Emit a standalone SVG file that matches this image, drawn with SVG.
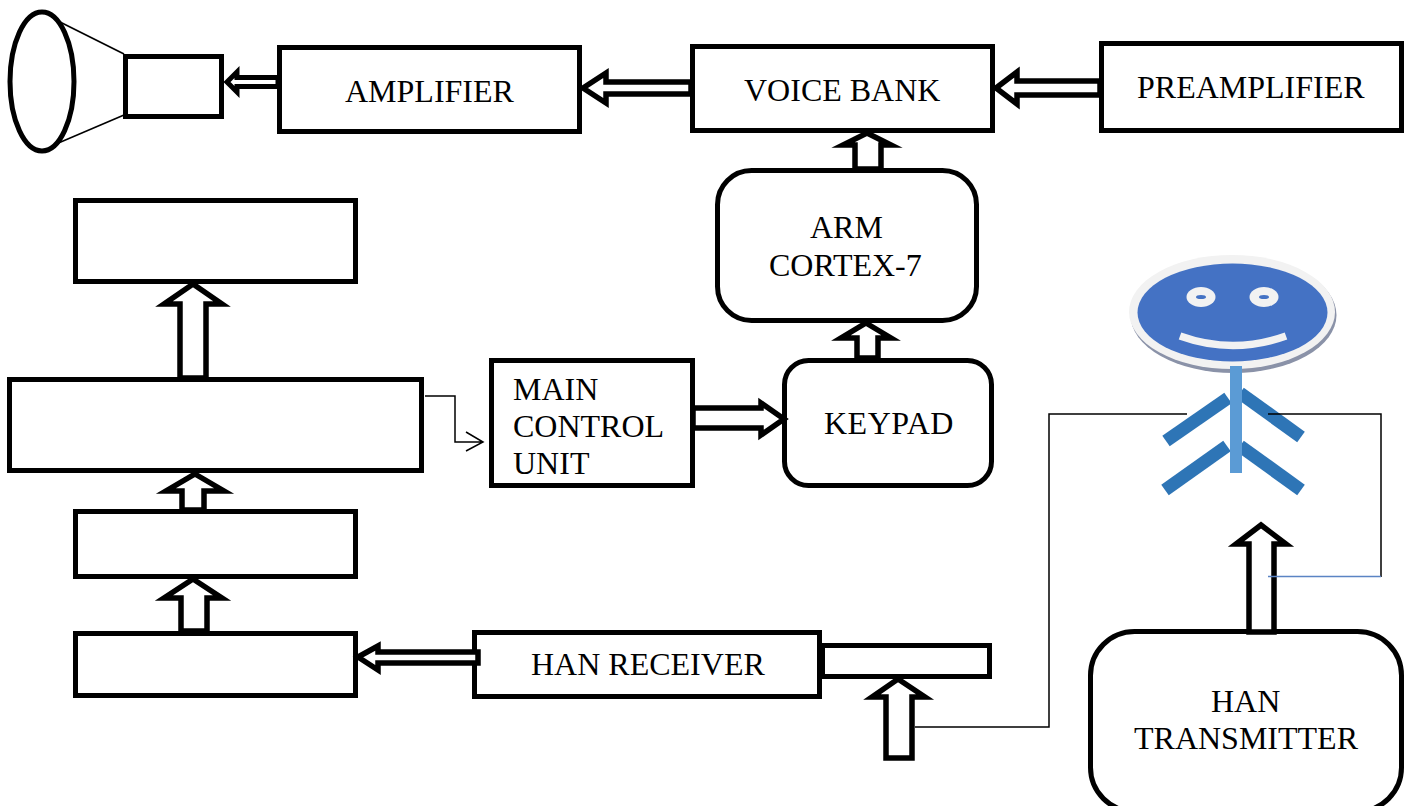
<svg xmlns="http://www.w3.org/2000/svg" width="1409" height="806" viewBox="0 0 1409 806">
<style>
.b{fill:#fff;stroke:#000;stroke-width:5}
.a{fill:#fff;stroke:#000;stroke-width:5.5;stroke-miterlimit:8}
.t{font-family:"Liberation Serif","Times New Roman",serif;font-size:32px;fill:#000}
.w{fill:none;stroke:#000;stroke-width:1.5}
.l{stroke:#2e75b6;stroke-width:13;fill:none}
.f{fill:#f2f2f2}
.m{fill:#4472c4}
</style>
<rect width="1409" height="806" fill="#fff"/>
<g id="speaker">
<line class="w" x1="42" y1="13" x2="124" y2="54" style="stroke-width:1.6"/>
<line class="w" x1="42" y1="150" x2="124" y2="115" style="stroke-width:1.6"/>
<ellipse cx="42" cy="81.5" rx="32" ry="69.5" fill="#fff" stroke="#000" stroke-width="5"/>
<rect class="b" x="125.500" y="56.500" width="96" height="60"/>
</g>
<g id="amplifier"><rect class="b" x="279.500" y="47.500" width="300" height="84"/><text class="t" x="345" y="102">AMPLIFIER</text></g>
<g id="voice-bank"><rect class="b" x="692.500" y="46.500" width="300" height="84"/><text class="t" x="744" y="101">VOICE BANK</text></g>
<g id="preamplifier"><rect class="b" x="1101.500" y="43.500" width="300" height="87"/><text class="t" x="1137" y="98">PREAMPLIFIER</text></g>
<g id="arm"><rect class="b" x="717.500" y="170.500" width="259" height="150" rx="34"/><text class="t" x="810" y="238">ARM</text><text class="t" x="769" y="276">CORTEX-7</text></g>
<g id="keypad"><rect class="b" x="784.500" y="360.500" width="207" height="125" rx="24"/><text class="t" x="824" y="434" style="letter-spacing:.5px">KEYPAD</text></g>
<g id="main-control"><rect class="b" x="491.500" y="360.500" width="201" height="125"/><text class="t" x="513" y="400">MAIN</text><text class="t" x="513" y="437">CONTROL</text><text class="t" x="513" y="474">UNIT</text></g>
<g id="box-top"><rect class="b" x="75.500" y="200.500" width="280" height="81"/></g>
<g id="box-wide"><rect class="b" x="9.500" y="379.500" width="412" height="91"/></g>
<g id="box-mid"><rect class="b" x="75.500" y="511.500" width="280" height="65"/></g>
<g id="box-low"><rect class="b" x="75.500" y="633.500" width="280" height="62"/></g>
<g id="han-receiver"><rect class="b" x="822.500" y="645.500" width="167" height="31"/><rect class="b" x="474.500" y="632.500" width="345" height="64"/><text class="t" x="531" y="675">HAN RECEIVER</text></g>
<g id="han-transmitter"><rect class="b" x="1090.500" y="631.500" width="311" height="180" rx="44"/><text class="t" x="1211" y="712">HAN</text><text class="t" x="1134" y="749">TRANSMITTER</text></g>
<g id="person">
<ellipse cx="1233.500" cy="315" rx="103" ry="58" fill="#8a92a8"/>
<ellipse class="f" cx="1232" cy="312" rx="103" ry="57"/>
<ellipse class="m" cx="1232.500" cy="312.500" rx="95" ry="49"/>
<ellipse class="f" cx="1201" cy="297" rx="14.500" ry="10"/><ellipse class="m" cx="1201" cy="297" rx="5" ry="2"/>
<ellipse class="f" cx="1264" cy="297" rx="14.500" ry="10"/><ellipse class="m" cx="1264" cy="297" rx="5" ry="2"/>
<path d="M1180 336Q1233 355 1286 336" fill="none" stroke="#f2f2f2" stroke-width="7.500"/>
<line class="l" x1="1228" y1="398" x2="1166" y2="441"/>
<line class="l" x1="1240" y1="393" x2="1301" y2="437"/>
<line class="l" x1="1227" y1="446" x2="1165" y2="490"/>
<line class="l" x1="1240" y1="446" x2="1301" y2="490"/>
<rect x="1230" y="366" width="12" height="107" fill="#5b9bd5"/>
</g>
<g id="connectors">
<polygon class="a" style="stroke-width:5" points="227,82 237,72 237,77.500 278,77.500 278,86.500 237,86.500 237,92"/>
<polygon class="a" points="583,88 606,73 606,82 691,82 691,94 606,94 606,103"/>
<polygon class="a" points="996,88 1017,72 1017,81 1100,81 1100,95 1017,95 1017,104"/>
<polygon class="a" points="867,133 891,145 881,145 881,169 855,169 855,145 843,145"/>
<polygon class="a" points="866,323 891,338 878,338 878,358 857,358 857,338 841,338"/>
<polygon class="a" points="193,284 222,304 206,304 206,378 180,378 180,304 164,304"/>
<polygon class="a" points="195,474 224,491 204,491 204,510 182,510 182,491 166,491"/>
<polygon class="a" points="193,579 222,598 207,598 207,631 181,631 181,598 164,598"/>
<polygon class="a" points="358,657 378,646 378,652 478,652 478,663 378,663 378,670"/>
<polygon class="a" points="784,419 761,403 761,408 693,408 693,428 761,428 761,435"/>
<polygon class="a" points="898,679 925,697 912,697 912,758 886,758 886,697 872,697"/>
<polygon class="a" points="1261,525 1286,544 1274,544 1274,632 1249,632 1249,544 1236,544"/>
<path class="w" d="M425 396H455V442H483M466 432L483 442L466 451"/>
<path class="w" d="M915 727H1049V414H1187"/>
<path class="w" d="M1268 414H1381V577"/>
<line x1="1268" y1="576.500" x2="1381" y2="576.500" stroke="#5b84c4" stroke-width="1.500"/>
</g>
</svg>
